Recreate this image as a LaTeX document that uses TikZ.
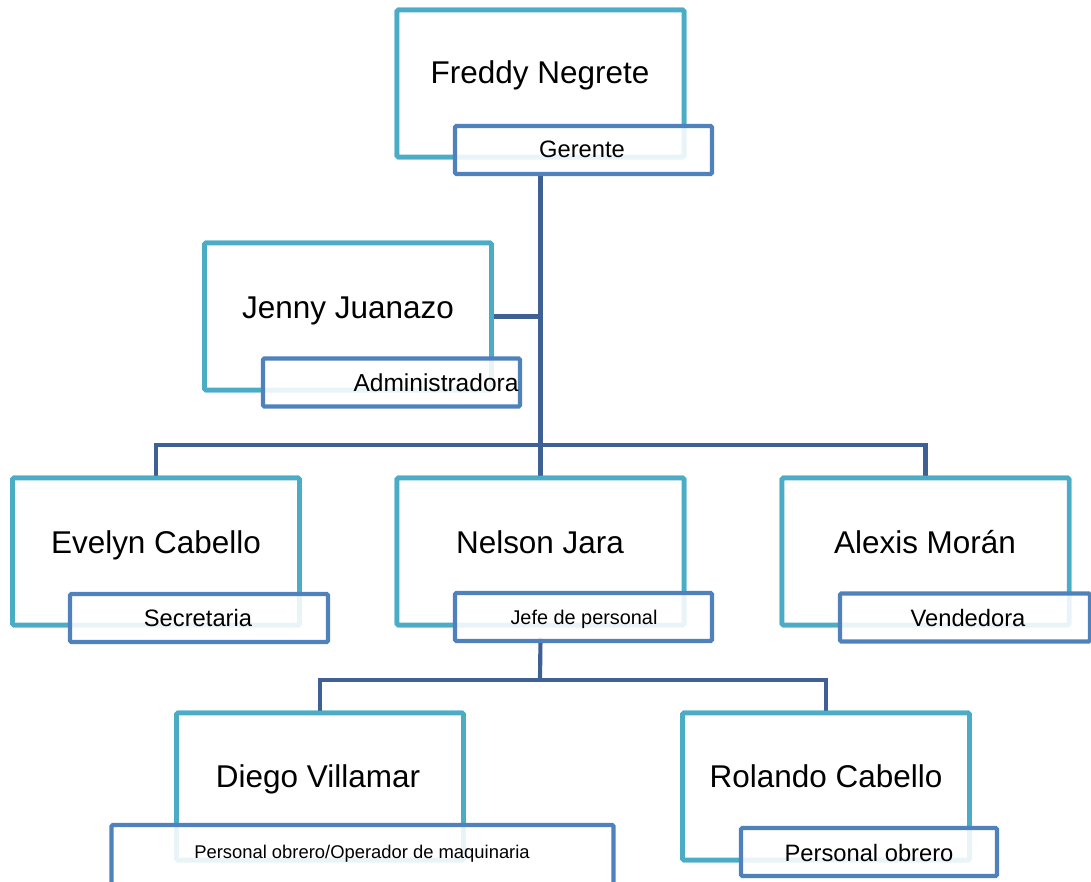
\documentclass[tikz,border=0pt]{standalone}
\usepackage{fontspec}
\setmainfont{Liberation Sans}
\definecolor{teal1}{RGB}{75,172,198}
\definecolor{blue1}{RGB}{79,129,189}
\definecolor{conn}{RGB}{62,96,148}
\begin{document}
\begin{tikzpicture}[x=0.75pt,y=-0.75pt,
  bigbox/.style={draw=teal1,line width=3.4pt,rounded corners=1pt,minimum width=287*0.75pt,minimum height=147*0.75pt,inner sep=0pt,fill=white},
  subbox/.style={draw=blue1,line width=3.1pt,rounded corners=1pt,minimum height=48*0.75pt,inner sep=0pt,fill=white,fill opacity=0.88},
  nametext/.style={font=\fontsize{23.6pt}{28pt}\selectfont,inner sep=0pt,anchor=base},
  subtext/.style={font=\fontsize{17.8pt}{21pt}\selectfont,inner sep=0pt,anchor=base},
  conline/.style={draw=conn,line width=3.1pt}]
\useasboundingbox (0,0) rectangle (1091,881);
% boxes (positions)
\node[bigbox] (freddy) at (540.5,83.5) {};
\node[bigbox] (jenny) at (348,316.5) {};
\node[bigbox] (evelyn) at (156,551.5) {};
\node[bigbox] (nelson) at (540.5,551.5) {};
\node[bigbox] (alexis) at (925.5,551.5) {};
\node[bigbox] (diego) at (320,786.5) {};
\node[bigbox] (rolando) at (826,786.5) {};
% connectors
\coordinate (bus) at (540,445);
\coordinate (bus2) at (540,680);
\draw[conline] (nelson.north |- 0,172) -- (nelson.north);
\draw[conline] (jenny.east) -- (jenny.east -| nelson.north);
\draw[conline] (evelyn.north) |- (bus) -| (alexis.north);
\draw[conline] (nelson.north |- 0,638) -- (bus2);
\draw[conline] (diego.north) |- (bus2) -| (rolando.north);
% redraw big boxes over connectors
\node[bigbox] at (freddy) {};
\node[bigbox] at (jenny) {};
\node[bigbox] at (evelyn) {};
\node[bigbox] at (nelson) {};
\node[bigbox] at (alexis) {};
\node[bigbox] at (diego) {};
\node[bigbox] at (rolando) {};
% sub boxes
\node[subbox,minimum width=257*0.75pt] (gerente) at (583.5,150) {};
\node[subbox,minimum width=257*0.75pt] (admin) at (391.5,382.5) {};
\node[subbox,minimum width=258*0.75pt] (secre) at (199,618) {};
\node[subbox,minimum width=257*0.75pt] (jefe) at (583.5,617) {};
\node[subbox,minimum width=250*0.75pt] (vend) at (965,617.5) {};
\node[subbox,minimum width=502*0.75pt,minimum height=68*0.75pt] (oper) at (362.5,859) {};
\node[subbox,minimum width=256*0.75pt] (obrero) at (869,852) {};
% texts
\node[nametext] (t1) at (540,84) {Freddy Negrete};
\node[nametext] (t2) at (348,318) {Jenny Juanazo};
\node[nametext] (t3) at (156,553) {Evelyn Cabello};
\node[nametext] (t4) at (540,553) {Nelson Jara};
\node[nametext] (t5) at (925,553) {Alexis Morán};
\node[nametext] (t6) at (318,787) {Diego Villamar};
\node[nametext] (t7) at (826,787) {Rolando Cabello};
\node[subtext] (s1) at (582,157) {Gerente};
\node[subtext,font=\fontsize{18.4pt}{21pt}\selectfont] (s2) at (436,391) {Administradora};
\node[subtext] (s3) at (198,626) {Secretaria};
\node[subtext,font=\fontsize{14.9pt}{18pt}\selectfont] (s4) at (584,624) {Jefe de personal};
\node[subtext] (s5) at (968,626) {Vendedora};
\node[subtext,font=\fontsize{13.8pt}{16pt}\selectfont] (s6) at (362,858) {Personal obrero/Operador de maquinaria};
\node[subtext] (s7) at (869,861) {Personal obrero};
\end{tikzpicture}
\end{document}
